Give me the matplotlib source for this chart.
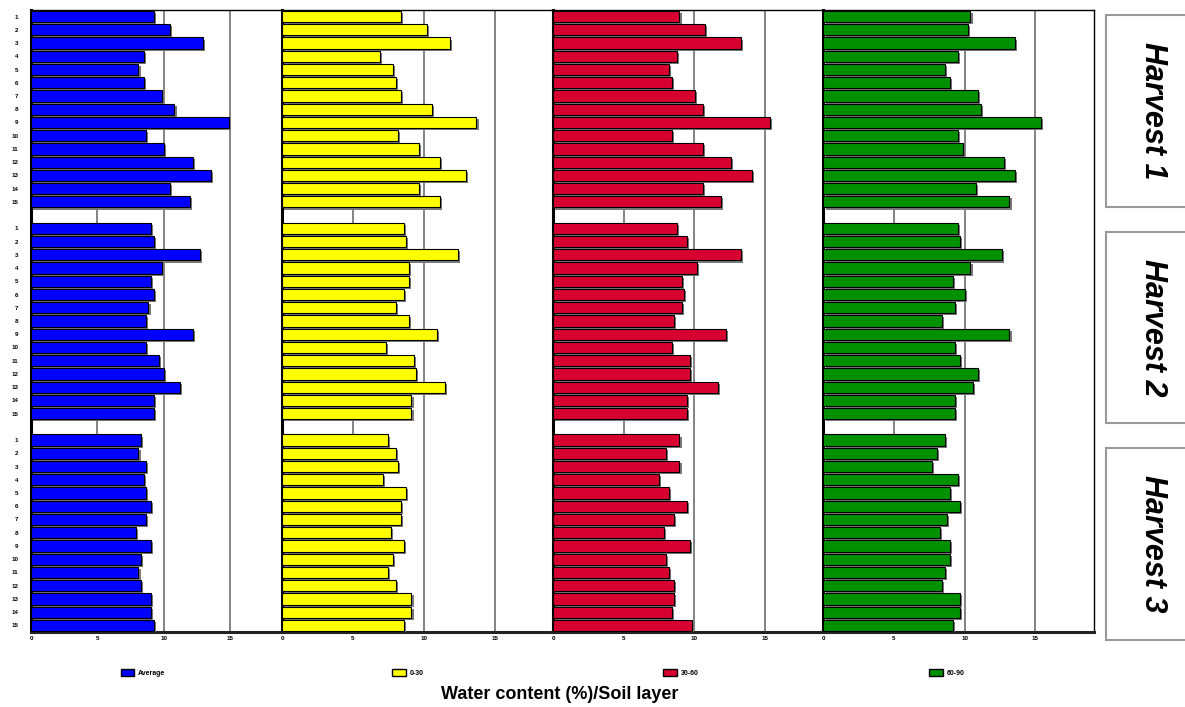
import matplotlib.pyplot as plt
import matplotlib.patheffects as pe
from matplotlib.patches import Patch, Rectangle
import numpy as np

plt.rcParams['font.family'] = ['Liberation Sans', 'DejaVu Sans']
plt.rcParams['font.weight'] = 'bold'

# plot numbers (rows inside each harvest group)
plots = [str(i) for i in range(1, 16)]
harvests = ["Harvest 1", "Harvest 2", "Harvest 3"]
layers = ["Average", "0-30", "30-60", "60-90"]
colors = ["#0000ff", "#ffff00", "#d80030", "#009000"]

# water content (%) per harvest, plots 1..15
average = [
    [9.25, 10.43, 12.94, 8.47, 8.09, 8.47, 9.87, 10.80, 14.90, 8.67, 10.03, 12.16, 13.54, 10.43, 11.98],
    [9.05, 9.25, 12.74, 9.87, 9.05, 9.25, 8.84, 8.67, 12.16, 8.67, 9.62, 10.03, 11.21, 9.25, 9.25],
    [8.27, 8.09, 8.67, 8.47, 8.67, 9.05, 8.67, 7.89, 9.05, 8.27, 8.09, 8.27, 9.05, 9.05, 9.25],
]
layer_0_30 = [
    [8.36, 10.21, 11.86, 6.92, 7.84, 8.01, 8.36, 10.58, 13.70, 8.20, 9.64, 11.13, 12.95, 9.64, 11.13],
    [8.58, 8.74, 12.40, 8.93, 8.93, 8.58, 8.01, 8.93, 10.94, 7.30, 9.28, 9.47, 11.48, 9.12, 9.12],
    [7.47, 8.01, 8.20, 7.11, 8.74, 8.39, 8.39, 7.65, 8.58, 7.84, 7.47, 8.01, 9.12, 9.12, 8.58],
]
layer_30_60 = [
    [8.95, 10.75, 13.34, 8.76, 8.19, 8.40, 10.04, 10.59, 15.36, 8.40, 10.59, 12.60, 14.08, 10.59, 11.89],
    [8.76, 9.47, 13.34, 10.21, 9.11, 9.30, 9.11, 8.57, 12.25, 8.40, 9.68, 9.68, 11.70, 9.47, 9.47],
    [8.95, 8.02, 8.95, 7.48, 8.19, 9.47, 8.57, 7.83, 9.68, 8.02, 8.19, 8.57, 8.57, 8.40, 9.85],
]
layer_60_90 = [
    [10.41, 10.22, 13.55, 9.51, 8.58, 8.94, 10.93, 11.15, 15.38, 9.51, 9.86, 12.79, 13.55, 10.82, 13.17],
    [9.51, 9.67, 12.62, 10.41, 9.15, 10.05, 9.32, 8.41, 13.17, 9.32, 9.67, 10.96, 10.58, 9.32, 9.32],
    [8.58, 8.03, 7.68, 9.51, 8.94, 9.67, 8.77, 8.22, 8.94, 8.94, 8.58, 8.41, 9.67, 9.67, 9.15],
]
panel_data = [average, layer_0_30, layer_30_60, layer_60_90]


def bar_positions():
    """Row positions of the 3 harvest groups, one empty slot between groups."""
    return np.concatenate([g * 16 + np.arange(15) for g in range(3)])


fig = plt.figure(figsize=(11.85, 7.07), dpi=100)

bottom, height = 0.1061, 0.8798
lefts = [0.0262, 0.2380, 0.4667, 0.6949]
widths = [0.2118, 0.2287, 0.2282, 0.2282]
xmax = [18.9, 19.1, 19.15, 19.15]
legend_x = [0.1207, 0.3443, 0.5747, 0.7992]

ypos = bar_positions()
shadow = [pe.SimplePatchShadow(offset=(1.5, -1.5), shadow_rgbFace="#7a7a7a", alpha=1.0), pe.Normal()]

for i, data in enumerate(panel_data):
    ax = fig.add_axes([lefts[i], bottom, widths[i], height])
    values = np.concatenate(data)
    bars = ax.barh(ypos, values, height=0.85, color=colors[i], edgecolor="black",
                   linewidth=0.8, zorder=3)
    for b in bars:
        b.set_path_effects(shadow)

    ax.set_ylim(46.5, -0.5)
    ax.set_xlim(0, xmax[i])
    ax.set_xticks([0, 5, 10, 15])
    ax.set_xticklabels(["0", "5", "10", "15"])
    ax.tick_params(axis="x", length=0, pad=3, labelsize=4.5)
    for xv in (5, 10, 15):
        ax.axvline(xv, color="#6e6e6e", lw=1.2, zorder=1)

    if i == 0:
        ax.set_yticks(ypos)
        ax.set_yticklabels(plots * 3)
        ax.tick_params(axis="y", length=0, pad=9, labelsize=4.5)
    else:
        ax.set_yticks([])

    ax.spines["left"].set_linewidth(2.2)
    ax.spines["left"].set_color("black")
    ax.spines["top"].set_linewidth(1.0)
    ax.spines["bottom"].set_linewidth(2.2)
    ax.spines["bottom"].set_color("#222222")
    if i < 3:
        ax.spines["right"].set_visible(False)
    else:
        ax.spines["right"].set_linewidth(1.0)

    ax.legend(handles=[Patch(facecolor=colors[i], edgecolor="black", label=layers[i])],
              loc="center", bbox_to_anchor=(legend_x[i], 0.048),
              bbox_transform=fig.transFigure, frameon=False, fontsize=5,
              handlelength=1.9, handleheight=1.0, handletextpad=0.6)

fig.text(0.4726, 0.017, "Water content (%)/Soil layer", ha="center", va="center",
         fontsize=13, fontweight="bold")

# harvest boxes on the right, cut by the figure edge
box_spans = [(0.7072, 0.9788), (0.4017, 0.6719), (0.0948, 0.3663)]
for name, (b0, b1) in zip(harvests, box_spans):
    fig.add_artist(Rectangle((0.9333, b0), 0.1, b1 - b0, transform=fig.transFigure,
                             facecolor="white", edgecolor="#999999", lw=1.5))
    fig.text(0.973, (b0 + b1) / 2, name, rotation=-90, ha="center", va="center",
             fontsize=22, fontstyle="italic", fontweight="bold")

fig.savefig("out.png", dpi=100)
